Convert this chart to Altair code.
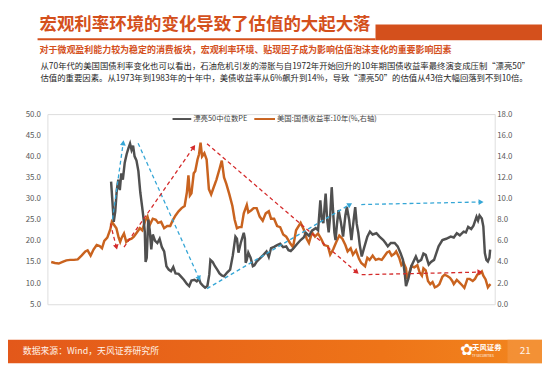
import math
import altair as alt
import pandas as pd

# ---------------- text ----------------
title_text = "宏观利率环境的变化导致了估值的大起大落"
subtitle_text = "对于微观盈利能力较为稳定的消费板块，宏观利率环境、贴现因子成为影响估值泡沫变化的重要影响因素"
para_line1 = "从70年代的美国国债利率变化也可以看出，石油危机引发的滞胀与自1972年开始回升的10年期国债收益率最终演变成压制“漂亮50”"
para_line2 = "估值的重要因素。从1973年到1983年的十年中，美债收益率从6%飙升到14%，导致“漂亮50”的估值从43倍大幅回落到不到10倍。"
legend_pe = "漂亮50中位数PE"
legend_yield = "美国:国债收益率:10年(%,右轴)"
source_text = "数据来源：Wind，天风证券研究所"
brand_text = "天风证券"
brand_sub = "TF SECURITIES"
page_no = "21"

# ---------------- data ----------------
pe_year = [1969.9, 1970.05, 1970.25, 1970.45, 1970.65, 1970.85, 1971.05, 1971.25, 1971.45, 1971.7,
           1971.95, 1972.2, 1972.4, 1972.6, 1972.8, 1973.0, 1973.25, 1973.5, 1973.75, 1974.0,
           1974.2, 1974.35, 1974.45, 1974.6, 1974.8, 1975.0, 1975.2, 1975.4, 1975.7, 1976.0,
           1976.3, 1976.6, 1976.9, 1977.2, 1977.5, 1977.8, 1978.1, 1978.4, 1978.8, 1979.1,
           1979.5, 1979.9, 1980.2, 1980.5, 1980.9, 1981.2, 1981.5, 1981.7, 1982.0, 1982.3,
           1982.6, 1982.85, 1983.0, 1983.3, 1983.6, 1983.9, 1984.2, 1984.5, 1984.8, 1985.2,
           1985.6, 1985.95, 1986.3, 1986.5, 1986.7, 1987.0, 1987.4, 1987.55, 1987.65, 1987.8,
           1988.0, 1988.3, 1988.6, 1988.8, 1989.1, 1989.5, 1990.0, 1990.4, 1990.7, 1991.0,
           1991.4, 1991.8, 1992.2, 1992.6, 1993.0, 1993.3, 1993.6, 1994.0, 1994.4, 1994.9,
           1995.3, 1995.6, 1996.0, 1996.4, 1996.9, 1997.2, 1997.5, 1997.7, 1997.9, 1998.1,
           1998.2, 1998.4, 1998.6, 1998.8, 1999.0, 1999.15, 1999.35, 1999.5, 1999.7, 1999.9,
           2000.2, 2000.5, 2000.8, 2001.0, 2001.3, 2001.6, 2001.9, 2002.1, 2002.3, 2002.5,
           2002.7, 2002.96, 2003.3, 2003.7, 2004.04, 2004.4, 2004.9, 2005.3, 2005.8, 2006.1,
           2006.4, 2006.8, 2007.3, 2007.7, 2008.1, 2008.4, 2008.65, 2008.8, 2009.1, 2009.5,
           2010.1, 2010.4, 2010.8, 2011.1, 2011.4, 2011.8, 2012.1, 2012.5, 2013.1, 2013.6,
           2014.1, 2014.7, 2015.1, 2015.5, 2015.9, 2016.4, 2016.7, 2017.0, 2017.4, 2017.7,
           2018.1, 2018.3, 2018.5, 2018.8, 2019.0, 2019.2, 2019.4, 2019.6, 2019.8, 2019.9]
pe_value = [34, 30, 24.5, 27, 32, 34.5, 32, 36, 34.5, 38.5,
            40.5, 42, 43, 41.5, 42.5, 40, 39, 36.5, 31.5, 28,
            25, 22, 15, 16, 25, 22.5, 18, 21.5, 20, 19.5,
            20.5, 18.5, 17.5, 14, 13.2, 12.8, 13.8, 12.3, 12.2, 11.6,
            10.8, 9.8, 9.3, 10.6, 10.8, 10.4, 11.0, 10.0, 9.4, 8.9,
            9.3, 12.0, 15.5, 15.0, 14.0, 13.2, 12.3, 11.8, 11.6, 12.5,
            13.2, 16.5, 21.0, 20.5, 17.2, 19.5, 21.9, 20.5, 14.8, 15.5,
            17.2, 16.0, 14.0, 14.2, 15.1, 15.8, 16.7, 17.5, 16.2, 18.3,
            18.6, 19.0, 19.3, 18.5, 18.7, 17.8, 17.6, 18.3, 19.2, 20.2,
            20.8, 21.9, 21.2, 22.4, 23.0, 22.5, 29.6, 25, 24.2, 29,
            31.2, 25, 22.0, 26, 32.7, 28, 22, 20.2, 24, 27.3,
            24.5, 21.0, 26, 28.0, 25, 20.2, 25, 28.0, 24, 22.0,
            19, 16.3, 18.5, 21, 22.2, 21.5, 21.8, 21, 20.2, 19.5,
            18.7, 19.5, 19.5, 18.7, 17, 15.5, 12, 9.3, 11, 14,
            16.3, 15, 15.5, 17, 16.7, 14.4, 15, 15.5, 18.7, 20.2,
            20.5, 21, 20.8, 21.8, 21.3, 22.2, 22, 23.3, 22.8, 23.6,
            25.7, 24.8, 26.0, 25.3, 23.4, 17.1, 15.5, 15.1, 16, 17.9]

yield_year = [1962.0, 1962.5, 1963.0, 1963.5, 1964.0, 1964.5, 1965.0, 1965.5, 1966.0, 1966.5,
              1966.8, 1967.2, 1967.6, 1968.0, 1968.4, 1968.7, 1969.0, 1969.4, 1969.8, 1970.0,
              1970.3, 1970.6, 1970.9, 1971.1, 1971.3, 1971.6, 1971.9, 1972.2, 1972.6, 1972.9,
              1973.3, 1973.7, 1974.0, 1974.4, 1974.7, 1975.0, 1975.4, 1975.8, 1976.1, 1976.5,
              1976.9, 1977.3, 1977.7, 1978.0, 1978.4, 1978.8, 1979.2, 1979.6, 1979.9, 1980.1,
              1980.3, 1980.5, 1980.8, 1981.0, 1981.3, 1981.5, 1981.7, 1981.9, 1982.2, 1982.5,
              1982.8, 1983.1, 1983.4, 1983.8, 1984.2, 1984.5, 1984.8, 1985.1, 1985.5, 1985.9,
              1986.2, 1986.5, 1986.8, 1987.1, 1987.4, 1987.8, 1988.0, 1988.4, 1988.7, 1989.1,
              1989.5, 1989.9, 1990.3, 1990.7, 1991.0, 1991.4, 1991.8, 1992.2, 1992.6, 1993.0,
              1993.5, 1993.9, 1994.3, 1994.9, 1995.3, 1995.7, 1996.0, 1996.4, 1996.8, 1997.2,
              1997.6, 1998.0, 1998.5, 1998.8, 1999.2, 1999.6, 2000.0, 2000.4, 2000.8, 2001.1,
              2001.5, 2001.8, 2002.2, 2002.6, 2002.9, 2003.4, 2003.7, 2004.0, 2004.4, 2004.8,
              2005.2, 2005.6, 2005.9, 2006.3, 2006.6, 2006.9, 2007.3, 2007.5, 2007.9, 2008.2,
              2008.5, 2008.8, 2008.95, 2009.2, 2009.5, 2009.9, 2010.3, 2010.6, 2010.9, 2011.1,
              2011.4, 2011.7, 2012.0, 2012.3, 2012.6, 2012.9, 2013.2, 2013.6, 2013.9, 2014.3,
              2014.6, 2014.9, 2015.1, 2015.5, 2015.8, 2016.2, 2016.5, 2016.9, 2017.2, 2017.6,
              2017.9, 2018.2, 2018.5, 2018.8, 2019.0, 2019.3, 2019.6, 2019.8, 2019.95]
yield_value = [4.0, 3.9, 3.85, 4.0, 4.15, 4.2, 4.2, 4.25, 4.6, 5.0,
               5.1, 4.6, 5.2, 5.6, 5.5, 5.3, 6.0, 6.3, 7.1, 7.8,
               7.5, 7.2, 6.3, 5.9, 6.3, 6.7, 5.9, 6.1, 6.2, 6.4,
               6.8, 7.2, 7.0, 7.9, 8.3, 7.5, 8.1, 8.0, 7.7, 7.8,
               7.2, 7.4, 7.4, 7.9, 8.4, 8.8, 9.1, 9.3, 10.6, 12.2,
               10.3, 10.5, 12.4, 12.6, 13.7, 14.2, 15.3, 14.0, 14.3, 13.7,
               10.9, 10.4, 11.0, 11.8, 12.8, 13.6, 12.0, 11.4, 10.4, 9.3,
               8.0, 7.2, 7.3, 7.3, 8.6, 9.4, 8.7, 8.9, 9.1, 9.1,
               8.3, 7.9, 8.6, 8.8, 8.1, 8.1, 7.4, 7.3, 6.6, 6.4,
               5.8, 5.4, 7.0, 7.7, 7.1, 6.2, 5.8, 6.8, 6.4, 6.7,
               6.2, 5.6, 5.5, 4.7, 5.2, 5.9, 6.5, 6.2, 5.6, 5.0,
               5.3, 4.7, 5.1, 4.3, 3.9, 3.6, 4.4, 4.2, 4.6, 4.2,
               4.3, 4.2, 4.5, 4.9, 5.0, 4.6, 4.8, 5.0, 4.4, 3.7,
               3.9, 3.4, 2.4, 2.9, 3.6, 3.5, 3.7, 3.0, 2.7, 3.4,
               3.2, 2.2, 1.9, 2.1, 1.6, 1.7, 1.9, 2.6, 2.8, 2.65,
               2.5, 2.2, 1.9, 2.3, 2.1, 1.8, 1.55, 2.4, 2.4, 2.2,
               2.4, 2.8, 2.9, 3.1, 2.7, 2.35, 1.6, 1.8, 1.9]

# tick labels
x_ticks = [1962 + 1.5 * i for i in range(39)]
left_ticks = [5, 10, 15, 20, 25, 30, 35, 40, 45, 50]
right_ticks = [0, 2, 4, 6, 8, 10, 12, 14, 16, 18]

# annotation arrows (year, left-axis value)
arrow_x1 = [1970.08, 1973.46, 1982.55, 2002.9, 1969.8, 1971.6, 1982.55, 2002.95]
arrow_y1 = [25.1, 43.1, 8.7, 28.6, 24.1, 18.5, 43.0, 12.0]
arrow_x2 = [1971.5, 1981.51, 2001.4, 2018.7, 1970.6, 1980.8, 2002.3, 2018.55]
arrow_y2 = [43.2, 11.1, 28.6, 29.2, 18.5, 42.2, 12.6, 12.6]
arrow_kind = ["blue", "blue", "blue", "blue", "red", "red", "red", "red"]

# ---------------- layout ----------------
W, H = 454, 193
XMIN, XMAX = 1961.5, 2020.5
LMIN, LMAX = 5, 50
PX_X = W / (XMAX - XMIN)
PX_Y = H / (LMAX - LMIN)

ORANGE_RED = "#D4501C"
GRAY_LINE = "#505050"
ORANGE_LINE = "#C9631F"
BLUE = "#35A6D6"
RED = "#D42A2A"
FONT = "Noto Sans CJK SC"

xscale = alt.Scale(domain=[XMIN, XMAX], nice=False, zero=False)
lscale = alt.Scale(domain=[LMIN, LMAX], nice=False, zero=False)
rscale = alt.Scale(domain=[0, 18], nice=False, zero=False)

df_pe = pd.DataFrame({"year": pe_year, "value": pe_value})
df_yield = pd.DataFrame({"year": yield_year, "value": yield_value})

angles = []
for a, b, c, d in zip(arrow_x1, arrow_y1, arrow_x2, arrow_y2):
    dx = (c - a) * PX_X
    dy_up = (d - b) * PX_Y
    angles.append(math.degrees(math.atan2(dx, dy_up)) % 360)
df_arrows = pd.DataFrame({
    "x1": arrow_x1, "y1": arrow_y1, "x2": arrow_x2, "y2": arrow_y2,
    "color": [BLUE if k == "blue" else RED for k in arrow_kind],
    "angle": angles,
})

one = pd.DataFrame({"k": [0]})

x_axis = alt.Axis(values=x_ticks, labelExpr="floor(datum.value)", labelAngle=270,
                  grid=False, ticks=False, domain=True, domainColor="#D9D9D9",
                  labelFontSize=7.5, labelColor="#595959", labelPadding=3,
                  labelOverlap=False, labelFlush=False, title=None, labelFont=FONT)

orange_line = alt.Chart(df_yield).mark_line(color=ORANGE_LINE, strokeWidth=2.5).encode(
    x=alt.X("year:Q", scale=xscale, axis=x_axis),
    y=alt.Y("value:Q", scale=rscale,
            axis=alt.Axis(orient="right", values=right_ticks, format=".1f", grid=False,
                          ticks=False, domain=False, labelFontSize=8, labelColor="#595959",
                          labelPadding=2, title=None, labelFont=FONT)),
)

gray_line = alt.Chart(df_pe).mark_line(color=GRAY_LINE, strokeWidth=2.5).encode(
    x=alt.X("year:Q", scale=xscale, axis=None),
    y=alt.Y("value:Q", scale=lscale,
            axis=alt.Axis(orient="left", values=left_ticks, format=".1f", grid=False,
                          ticks=False, domain=False, labelFontSize=8, labelColor="#595959",
                          labelPadding=7, title=None, labelFont=FONT)),
)

arrow_lines = alt.Chart(df_arrows).mark_rule(strokeDash=[4, 3], strokeWidth=1.3).encode(
    x=alt.X("x1:Q", scale=xscale, axis=None), x2="x2:Q",
    y=alt.Y("y1:Q", scale=lscale, axis=None), y2="y2:Q",
    color=alt.Color("color:N", scale=None),
)
arrow_heads = alt.Chart(df_arrows).mark_point(shape="triangle-up", filled=True, size=34, opacity=1).encode(
    x=alt.X("x2:Q", scale=xscale, axis=None),
    y=alt.Y("y2:Q", scale=lscale, axis=None),
    angle=alt.Angle("angle:Q", scale=None),
    color=alt.Color("color:N", scale=None),
)


def rect(x1, x2, y1, y2, color, opacity=1.0):
    return alt.Chart(one).mark_rect(color=color, opacity=opacity).encode(
        x=alt.value(x1), x2=alt.value(x2), y=alt.value(y1), y2=alt.value(y2))


def text(t, x, y, size, color, weight="normal", align="left", font=FONT):
    return alt.Chart(pd.DataFrame({"t": [t]})).mark_text(
        align=align, baseline="middle", fontSize=size, fontWeight=weight, color=color, font=font
    ).encode(x=alt.value(x), y=alt.value(y), text="t:N")


def hline(x1, x2, y, color, width):
    return alt.Chart(one).mark_rule(color=color, strokeWidth=width).encode(
        x=alt.value(x1), x2=alt.value(x2), y=alt.value(y))


footer_grad = alt.LinearGradient(
    gradient="linear",
    stops=[alt.GradientStop(offset=0, color="#E3581A"),
           alt.GradientStop(offset=0.7, color="#EE7418"),
           alt.GradientStop(offset=1, color="#F2861E")],
    x1=0, x2=1, y1=0, y2=0,
)
footer = alt.Chart(one).mark_rect(color=footer_grad).encode(
    x=alt.value(-40), x2=alt.value(502), y=alt.value(229), y2=alt.value(253))

layers = [
    rect(333, 502, -91, -75, ORANGE_RED),
    rect(-10, 333, -77, -75, ORANGE_RED),
    footer,
    rect(467, 502, 229, 253, "#F49A48", 0.55),
    text(title_text, -8, -90, 17.7, ORANGE_RED, "bold"),
    text(subtitle_text, -8, -65.5, 9.1, ORANGE_RED, "bold"),
    text(para_line1, -7, -49, 8.5, "#262626"),
    text(para_line2, -7, -36.5, 8.5, "#262626"),
    hline(127, 146, 5, GRAY_LINE, 2),
    text(legend_pe, 148, 5, 7.5, "#404040"),
    hline(210, 231, 5, ORANGE_LINE, 2),
    text(legend_yield, 233, 5, 7.5, "#404040"),
    text(source_text, -25, 241, 9, "#FFF3EA"),
    text("✿", 419, 240, 16, "#FFFFFF", font="DejaVu Sans"),
    text(brand_text, 431, 237, 7.5, "#FFFFFF", "bold"),
    text(brand_sub, 431, 246, 3.2, "#FFFFFF"),
    text(page_no, 485, 241, 10, "#FFF3EA", align="center"),
    orange_line,
    gray_line,
    arrow_lines,
    arrow_heads,
]

chart = alt.layer(*layers).resolve_scale(y="independent").properties(
    width=W, height=H,
    padding={"left": 40, "top": 105, "right": 48, "bottom": 60},
    autosize=alt.AutoSizeParams(type="none"),
    background="white",
).configure_view(stroke=None).configure(font=FONT)

chart.save("out.html", embed_options={"renderer": "svg", "actions": False})
